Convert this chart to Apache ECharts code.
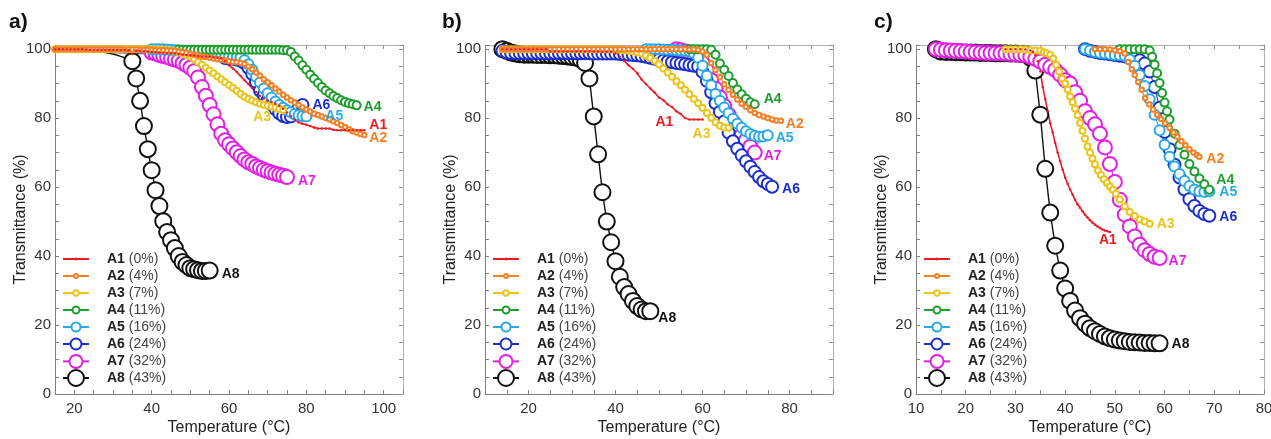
<!DOCTYPE html>
<html><head><meta charset="utf-8">
<script src="https://cdn.jsdelivr.net/npm/echarts@6/dist/echarts.min.js"></script>
<style>html,body{margin:0;padding:0;background:#fff}#c{width:1271px;height:439px}</style>
</head><body><div id="c"></div>
<script>
// ---------------- DATA ----------------
const names = ['A1','A2','A3','A4','A5','A6','A7','A8'];
const pcts = ['0%','4%','7%','11%','16%','24%','32%','43%'];
const panelLetters = ['a)','b)','c)'];
const xMin = [15,10,10];
const xMax = [105,90,80];
const xLabelStep = [20,20,10];
const yLabelStep = 20;

// panel a
const aA1 = [[15,100],[16,100],[17,100],[18,100],[19,100],[20,100],[21,100],[22,100],[23,99.9],[24,99.8],[25,99.8],[26,99.8],[27,99.8],[28,99.8],[29,99.8],[30,99.8],[31,99.8],[32,99.8],[33,99.8],[34,99.7],[35,98.6],[36,99.6],[37,99.5],[38,99.4],[39,99.3],[40,99.2],[41,99.1],[42,99.0],[43,98.9],[44,98.8],[45,98.8],[46,98.7],[47,98.5],[48,98.4],[49,98.3],[50,98.3],[51,98.2],[52,98.0],[53,97.9],[54,97.8],[55,97.8],[56,97.6],[57,97.5],[58,97.3],[59,96.6],[60,95.3],[61,94.4],[62,93.4],[63,92.2],[64,91.0],[65,89.9],[66,88.7],[67,87.6],[68,86.5],[69,85.7],[70,85.2],[71,84.7],[72,84.2],[73,83.6],[74,82.7],[75,81.6],[76,80.6],[77,79.6],[78,78.8],[79,78.4],[80,78.1],[81,77.7],[82,77.3],[83,77.0],[84,77.0],[85,77.0],[86,77.0],[87,76.6],[88,76.5],[89,76.5],[90,76.5],[91,76.5],[92,76.5],[93,76.5],[94,76.5],[95,76.5]];
const aA2 = [[15,100],[16,100],[17,100],[18,100],[19,100],[20,100],[21,100],[22,100],[23,100],[24,100],[25,100],[26,100],[27,100],[28,100],[29,100],[30,100],[31,100],[32,100],[33,99.9],[34,99.9],[35,99.9],[36,99.9],[37,99.8],[38,99.8],[39,99.8],[40,99.8],[41,99.7],[42,99.7],[43,99.7],[44,99.6],[45,99.6],[46,99.5],[47,99.3],[48,99.1],[49,98.9],[50,98.6],[51,98.4],[52,98.1],[53,97.9],[54,97.7],[55,97.5],[56,97.3],[57,97.1],[58,96.9],[59,96.7],[60,96.5],[61,96.3],[62,96.2],[63,96.0],[64,95.7],[65,95.0],[66,94.2],[67,93.2],[68,92.3],[69,91.3],[70,90.4],[71,89.5],[72,88.6],[73,87.7],[74,86.8],[75,86.0],[76,85.2],[77,84.5],[78,83.8],[79,83.1],[80,82.5],[81,81.9],[82,81.3],[83,80.9],[84,80.5],[85,80.0],[86,79.6],[87,79.1],[88,78.6],[89,78.0],[90,77.4],[91,76.8],[92,76.2],[93,75.8],[94,75.4],[95,75.1]];
const aA3 = [[15,100],[16,100],[17,100],[18,100],[19,100],[20,100],[21,100],[22,100],[23,100],[24,100],[25,100],[26,100],[27,100],[28,100],[29,100],[30,100],[31,100],[32,100],[33,100],[34,100],[35,100],[36,100],[37,100],[38,100],[39,100],[40,100],[41,99.9],[42,99.9],[43,99.8],[44,99.7],[45,99.6],[46,99.4],[47,99.1],[48,98.7],[49,98.3],[50,97.9],[51,97.1],[52,96.3],[53,95.5],[54,94.6],[55,93.8],[56,93.0],[57,92.1],[58,91.3],[59,90.4],[60,89.6],[61,88.8],[62,87.9],[63,87.0],[64,86.2],[65,85.6],[66,85.1],[67,84.6],[68,84.2],[69,83.9],[70,83.6],[71,83.3],[72,83.0],[73,82.6],[74,82.3]];
const aA4 = [[47,99.9],[48,99.8],[49,99.8],[50,99.8],[51,99.8],[52,99.8],[53,99.8],[54,99.8],[55,99.8],[56,99.8],[57,99.8],[58,99.8],[59,99.8],[60,99.8],[61,99.8],[62,99.8],[63,99.8],[64,99.8],[65,99.8],[66,99.8],[67,99.8],[68,99.8],[69,99.8],[70,99.8],[71,99.8],[72,99.8],[73,99.8],[74,99.7],[75,99.7],[76,99.2],[77,97.9],[78,96.7],[79,95.3],[80,94.0],[81,92.6],[82,91.4],[83,90.2],[84,89.0],[85,88.0],[86,87.2],[87,86.4],[88,85.8],[89,85.2],[90,84.7],[91,84.3],[92,84.0],[93,83.7]];
const aA5 = [[40,100],[41,100],[42,100],[43,100],[44,99.9],[45,99.8],[46,99.7],[47,99.6],[48,99.5],[49,99.4],[50,99.2],[51,99.0],[52,98.8],[53,98.7],[54,98.6],[55,98.5],[56,98.4],[57,98.3],[58,98.2],[59,98.1],[60,97.9],[61,97.8],[62,97.7],[63,97.6],[64,96.8],[65,95.6],[66,94.0],[67,92.0],[68,90.3],[69,88.6],[70,87.2],[71,86.0],[72,84.8],[73,83.8],[74,83.0],[75,82.3],[76,81.7],[77,81.2],[78,80.8],[79,80.6],[80,80.5]];
const aA6lead = [[15,99.6],[20,99.4],[25,99.2],[30,99.0],[35,98.8],[40,98.5],[45,98.0],[50,97.7],[55,97.5],[59,97.4]];
const aA6 = [[59,97.4],[60,97.3],[61,97.2],[62,97.0],[63,96.6],[64,96.0],[65,94.6],[66,92.8],[67,90.4],[68,88.0],[69,86.6],[70,85.2],[71,84.0],[72,82.6],[73,81.4],[74,80.6],[75,80.3],[76,80.5],[77,81.5],[78,83.0],[79,83.8]];
const aA7 = [[40,99.0],[41,98.7],[42,98.3],[43,98.0],[44,97.7],[45,97.3],[46,97.0],[47,96.6],[48,96.0],[49,95.4],[50,94.6],[51,93.6],[52,91.8],[53,89.0],[54,86.5],[55,83.8],[56,81.1],[57,78.2],[58,75.5],[59,73.6],[60,72.4],[61,71.2],[62,70.1],[63,69.0],[64,68.0],[65,67.2],[66,66.7],[67,66.0],[68,65.5],[69,65.0],[70,64.6],[71,64.2],[72,63.9],[73,63.6],[74,63.3],[75,62.9]];
const aA8lead = [[15,99.6],[20,99.5],[25,99.3],[28,99.0],[30,98.6],[32,97.9],[34,97.2],[35,96.5]];
const aA8 = [[35,96.5],[36,91.5],[37,85.0],[38,77.7],[39,71.0],[40,64.9],[41,59.1],[42,54.5],[43,50.1],[44,47.0],[45,44.6],[46,42.3],[47,40.0],[48,38.3],[49,37.4],[50,36.5],[51,36.2],[52,35.9],[53,35.7],[54,35.7],[55,35.8]];

// panel b
const bA1 = [[14,100],[15,100],[16,100],[17,100],[18,100],[19,100],[20,100],[21,100],[22,100],[23,100],[24,100],[25,99.3],[26,99.3],[27,99.3],[28,99.3],[29,99.3],[30,99.3],[31,99.3],[32,99.3],[33,99.3],[34,99.3],[35,99.3],[36,99.3],[37,99.2],[38,99.2],[39,99.2],[40,98.7],[41,97.8],[42,96.6],[43,95.3],[44,94.3],[45,93.0],[46,91.2],[47,89.9],[48,88.6],[49,87.4],[50,86.0],[51,85.2],[52,84.0],[53,83.2],[54,82.0],[55,81.2],[56,80.0],[57,79.6],[58,79.6],[59,79.6],[60,79.6]];
const bA2 = [[14,100],[15,100],[16,100],[17,100],[18,100],[19,100],[20,100],[21,100],[22,100],[23,100],[24,100],[25,100],[26,100],[27,100],[28,100],[29,100],[30,100],[31,100],[32,100],[33,100],[34,100],[35,100],[36,100],[37,100],[38,100],[39,100],[40,100],[41,100],[42,100],[43,100],[44,100],[45,100],[46,100],[47,100],[48,100],[49,100],[50,100],[51,100],[52,100],[53,100],[54,100],[55,100],[56,100],[57,99.9],[58,99.9],[59,99.8],[60,99.3],[61,98.3],[62,96.0],[63,94.0],[64,91.9],[65,89.8],[66,88.2],[67,86.8],[68,85.4],[69,84.2],[70,83.3],[71,82.3],[72,81.5],[73,80.9],[74,80.5],[75,80.0],[76,79.6],[77,79.3],[78,79.2]];
const bA3 = [[14,100],[15,100],[16,100],[17,100],[18,100],[19,100],[20,100],[21,100],[22,100],[23,100],[24,100],[25,100],[26,100],[27,100],[28,100],[29,100],[30,100],[31,100],[32,100],[33,100],[34,100],[35,100],[36,100],[37,100],[38,100],[39,100],[40,99.9],[41,99.8],[42,99.7],[43,99.5],[44,99.4],[45,99.1],[46,98.7],[47,98.1],[48,97.4],[49,96.6],[50,95.6],[51,94.4],[52,93.2],[53,92.0],[54,90.7],[55,89.5],[56,88.2],[57,86.9],[58,85.6],[59,84.3],[60,83.0],[61,81.5],[62,80.1],[63,78.8],[64,77.8],[65,77.3],[66,77.2]];
const bA4 = [[57,100],[58,100],[59,100],[60,100],[61,100],[62,99.8],[63,98.4],[64,95.8],[65,94.0],[66,92.2],[67,90.2],[68,88.3],[69,86.9],[70,85.6],[71,84.6],[72,84.0]];
const bA5 = [[47,100],[48,100],[49,100],[50,100],[51,99.9],[52,99.8],[53,99.8],[54,99.7],[55,99.6],[56,99.5],[57,99.3],[58,98.8],[59,97.5],[60,95.2],[61,92.3],[62,89.5],[63,87.0],[64,85.0],[65,83.1],[66,81.4],[67,79.8],[68,78.4],[69,77.2],[70,76.2],[71,75.4],[72,74.9],[73,74.6],[74,74.7],[75,75.0]];
const bA6 = [[14,99.5],[15,99.0],[16,98.8],[17,98.8],[18,98.8],[19,98.8],[20,98.8],[21,98.8],[22,98.8],[23,98.8],[24,98.8],[25,98.8],[26,98.8],[27,98.8],[28,98.8],[29,98.8],[30,98.8],[31,98.8],[32,98.8],[33,98.8],[34,98.8],[35,98.7],[36,98.7],[37,98.7],[38,98.7],[39,98.7],[40,98.7],[41,98.6],[42,98.5],[43,98.4],[44,98.3],[45,98.2],[46,98.0],[47,97.8],[48,97.5],[49,97.2],[50,96.9],[51,96.6],[52,96.4],[53,96.2],[54,96.0],[55,95.8],[56,95.6],[57,95.4],[58,95.2],[59,95.0],[60,93.4],[61,90.8],[62,87.5],[63,84.3],[64,81.8],[65,79.0],[66,75.8],[67,73.3],[68,71.1],[69,69.2],[70,67.5],[71,65.9],[72,64.4],[73,62.9],[74,61.7],[75,60.9],[76,60.1]];
const bA7 = [[54,100],[55,99.7],[56,99.3],[57,99.0],[58,98.5],[59,97.5],[60,96.0],[61,93.8],[62,91.0],[63,88.5],[64,86.0],[65,83.5],[66,81.0],[67,79.0],[68,77.0],[69,75.0],[70,73.5],[71,71.7],[72,70.0]];
const bA8 = [[14,100],[15,99.5],[16,99.0],[17,98.7],[18,98.5],[19,98.4],[20,98.4],[21,98.4],[22,98.3],[23,98.3],[24,98.3],[25,98.2],[26,98.2],[27,98.1],[28,98.0],[29,97.9],[30,97.7],[31,97.5],[32,97.0],[33,96.0],[34,91.5],[35,80.5],[36,69.5],[37,58.5],[38,50.0],[39,44.0],[40,38.5],[41,34.0],[42,31.0],[43,29.0],[44,27.0],[45,25.5],[46,24.5],[47,24.0],[48,24.0]];

// panel c
const cA1 = [[28,100],[29,100],[30,100],[31,100],[32,99.9],[33,99.6],[33.5,99.2],[34,98.3],[34.5,96.5],[35,93.5],[35.5,89.0],[36,85.5],[36.5,82.0],[37,78.5],[37.5,75.8],[38,72.8],[38.5,70.0],[39,67.5],[39.5,65.0],[40,62.8],[40.5,61.0],[41,59.3],[41.5,57.8],[42,56.3],[42.5,55.0],[43,54.0],[43.5,53.0],[44,52.0],[44.5,51.2],[45,50.4],[45.5,49.7],[46,49.1],[46.5,48.6],[47,48.1],[47.5,47.7],[48,47.4],[48.5,47.2],[49,47.0]];
const cA2 = [[46,100],[47,100],[48,100],[49,99.9],[50,99.7],[51,99.4],[52,98.7],[52.7,96.3],[53.4,94.2],[54,92.5],[54.7,90.5],[55.4,88.2],[56.1,85.8],[56.9,84.0],[57.7,82.5],[58.5,81.0],[59.3,79.8],[60.1,78.5],[61,77.2],[61.8,75.8],[62.6,74.6],[63.4,73.3],[64.2,72.1],[65,71.0],[65.8,70.0],[66.5,69.3],[67,68.8]];
const cA3 = [[28,100],[29,100],[30,100],[31,100],[32,99.9],[33,99.7],[34,99.6],[35,99.5],[35.7,99.1],[36.3,98.8],[37,98.3],[37.6,97.3],[38.2,95.5],[38.8,93.5],[39.4,91.5],[40,90.0],[40.5,88.3],[41,86.3],[41.5,84.6],[42,82.8],[42.5,80.8],[43,78.6],[43.5,76.3],[44,74.0],[44.5,71.8],[45,70.0],[45.5,68.3],[46,66.6],[46.6,64.8],[47.2,63.5],[47.8,62.3],[48.4,61.2],[49,60.2],[49.6,59.2],[50.2,58.1],[51,56.4],[52,54.4],[53,52.8],[54,51.6],[55,50.6],[56,50.0],[57,49.4]];
const cA4 = [[51,100],[52,100],[53,100],[54,100],[55,100],[56,100],[57,99.6],[57.5,97.8],[58,95.5],[58.5,93.0],[59,90.2],[59.5,87.3],[60,84.5],[60.5,82.0],[61,79.6],[62,75.5],[63,72.2],[64,69.4],[65,66.7],[66,64.5],[67,62.5],[68,60.8],[69,59.2]];
const cA5 = [[44,100],[45,99.6],[46,99.2],[47,98.9],[48,98.7],[49,98.5],[50,98.3],[51,98.2],[52,98.0],[53,97.0],[54,95.2],[55,92.5],[56,89.3],[57,85.5],[58,81.0],[59,76.5],[60,72.3],[61,68.8],[62,66.0],[63,63.8],[64,61.8],[65,60.3],[66,59.3],[67,58.8],[68,58.6],[69,58.8]];
const cA6 = [[44,100],[45,99.5],[46,99.2],[47,98.9],[48,98.7],[49,98.5],[50,98.3],[51,98.1],[52,97.9],[53,97.6],[54,97.3],[55,96.8],[56,95.8],[57,93.5],[58,89.0],[59,83.0],[60,76.0],[61,71.0],[62,66.5],[63,62.8],[64,59.3],[65,56.5],[66,54.5],[67,53.1],[68,52.2],[69,51.7]];
const cA7 = [[14,100],[15,99.8],[16,99.7],[17,99.6],[18,99.5],[19,99.4],[20,99.3],[21,99.2],[22,99.1],[23,99.0],[24,98.9],[25,98.9],[26,98.8],[27,98.8],[28,98.7],[29,98.6],[30,98.5],[31,98.4],[32,98.2],[33,97.8],[34,97.2],[35,96.4],[36,95.5],[37,94.8],[38,94.0],[39,92.6],[40,91.0],[41,90.0],[42,87.5],[43,85.0],[44,82.0],[45,80.0],[46,78.2],[47,75.5],[48,71.5],[49,66.7],[50,61.5],[51,56.3],[52,52.0],[53,48.6],[54,45.7],[55,43.3],[56,41.7],[57,40.6],[58,39.8],[59,39.4]];
const cA8 = [[14,100],[15,99.3],[16,99.2],[17,99.2],[18,99.1],[19,99.1],[20,99.0],[21,99.0],[22,99.0],[23,98.9],[24,98.9],[25,98.9],[26,98.8],[27,98.8],[28,98.8],[29,98.7],[30,98.7],[31,98.6],[32,98.5],[33,97.5],[34,93.8],[35,81.0],[36,65.3],[37,52.6],[38,43.0],[39,35.8],[40,30.6],[41,27.0],[42,24.2],[43,22.0],[44,20.4],[45,19.1],[46,18.2],[47,17.4],[48,16.7],[49,16.2],[50,15.8],[51,15.5],[52,15.3],[53,15.1],[54,15.0],[55,14.9],[56,14.8],[57,14.8],[58,14.7],[59,14.7]];

const panelData = [
  [aA1,aA2,aA3,aA4,aA5,aA6,aA7,aA8],
  [bA1,bA2,bA3,bA4,bA5,bA6,bA7,bA8],
  [cA1,cA2,cA3,cA4,cA5,cA6,cA7,cA8]
];
const leadData = [{5:aA6lead, 7:aA8lead},{},{}];

// ---------------- STYLE / LAYOUT ----------------
const FONT = '"Liberation Sans", Arial, sans-serif';
const colors = ['#ec1c24','#f58025','#ebc51c','#1f9e2e','#27a9e8','#1c2fcc','#e41fe4','#111111'];
const symbols = ['circle','emptyCircle','emptyCircle','emptyCircle','emptyCircle','emptyCircle','emptyCircle','emptyCircle'];
const symbolSizes = [2.5,4.5,6,8,10,12,14,16];
const lineWidths = [1.6,1.1,1.1,1.1,1.1,1.1,1.1,1.4];
const legendSym = [3,4,5.5,7,9,11,13,16];
const gridLeft = [55,485,916];
const gridRight = [868,438,7];
const labelShift = [
  [[5,-5],[5,3],[-30,7],[7,2],[19,0],[10,0],[11,4],[12,4]],
  [[-47,3],[5,3],[-36,6],[9,-5],[8,3],[10,2],[9,4],[8,7]],
  [[-11,8],[7,2],[7,1],[7,-10],[10,1],[10,1],[9,3],[12,1]]
];

const grids = [], xAxes = [], yAxes = [], series = [], legends = [], titles = [];
for (let p = 0; p < 3; p++) {
  grids.push({left: gridLeft[p], right: gridRight[p], top: 45, bottom: 45, containLabel: false, outerBoundsMode: 'none'});
  const lab = xLabelStep[p];
  xAxes.push({
    gridIndex: p, type: 'value', min: xMin[p], max: xMax[p], interval: 5, position: 'bottom',
    axisLine: {onZero: false, lineStyle: {color: '#808080', width: 1}},
    axisTick: {inside: true, length: 4, lineStyle: {color: '#808080'}},
    axisLabel: {formatter: v => (v % lab === 0 ? String(v) : ''), color: '#333', fontSize: 15, margin: 7, fontFamily: FONT},
    splitLine: {show: false},
    name: 'Temperature (°C)', nameLocation: 'middle', nameGap: 26, nameMoveOverlap: false,
    nameTextStyle: {fontSize: 16, color: '#222', fontFamily: FONT}
  });
  xAxes.push({
    gridIndex: p, type: 'value', min: xMin[p], max: xMax[p], interval: 5, position: 'top',
    axisLine: {onZero: false, lineStyle: {color: '#b0b0b0', width: 1}},
    axisTick: {inside: true, length: 4, lineStyle: {color: '#909090'}},
    axisLabel: {show: false}, splitLine: {show: false}
  });
  yAxes.push({
    gridIndex: p, type: 'value', min: 0, max: 101.2, interval: 5, position: 'left',
    axisLine: {show: true, onZero: false, lineStyle: {color: '#808080', width: 1}},
    axisTick: {show: true, inside: true, length: 4, lineStyle: {color: '#808080'}},
    axisLabel: {formatter: v => (v % yLabelStep === 0 ? String(v) : ''), color: '#333', fontSize: 15, margin: 4, fontFamily: FONT},
    splitLine: {show: false},
    name: 'Transmittance (%)', nameLocation: 'middle', nameGap: 26, nameRotate: 90, nameMoveOverlap: false,
    nameTextStyle: {fontSize: 16, color: '#222', fontFamily: FONT}
  });
  yAxes.push({
    gridIndex: p, type: 'value', min: 0, max: 101.2, interval: 5, position: 'right',
    axisLine: {show: true, onZero: false, lineStyle: {color: '#b0b0b0', width: 1}},
    axisTick: {show: true, inside: true, length: 4, lineStyle: {color: '#909090'}},
    axisLabel: {show: false}, splitLine: {show: false}
  });
  titles.push({text: panelLetters[p], left: [9, 442, 874][p], top: 12, padding: 0,
    textStyle: {fontSize: 21, fontWeight: 'bold', color: '#111', fontFamily: FONT}});

  for (let i = 7; i >= 0; i--) {
    const data = panelData[p][i];
    const last = data.length - 1;
    const nm = names[i];
    series.push({
      type: 'line', name: nm, xAxisIndex: 2 * p, yAxisIndex: 2 * p, data: data,
      symbol: symbols[i], symbolSize: symbolSizes[i], showSymbol: true, showAllSymbol: true,
      lineStyle: {color: colors[i], width: lineWidths[i]},
      itemStyle: {color: colors[i], borderWidth: 1.2},
      label: {show: true, position: 'inside', align: 'left', verticalAlign: 'middle',
        formatter: (pp) => (pp.dataIndex === last ? nm : ''),
        color: colors[i], fontWeight: 'bold', fontSize: 14, fontFamily: FONT, textBorderWidth: 0},
      labelLayout: {dx: labelShift[p][i][0], dy: labelShift[p][i][1]},
      emphasis: {disabled: true}, silent: true, animation: false
    });
    if (leadData[p][i]) {
      series.push({
        type: 'line', name: nm + ' lead', xAxisIndex: 2 * p, yAxisIndex: 2 * p, data: leadData[p][i],
        symbol: 'none', lineStyle: {color: colors[i], width: lineWidths[i]},
        emphasis: {disabled: true}, silent: true, animation: false
      });
    }
  }
  for (let i = 0; i < 8; i++) {
    const ih = legendSym[i] / 0.8;
    const center = 260 + 17 * i;
    const nm = names[i], pc = pcts[i];
    legends.push({
      data: [nm], left: gridLeft[p] + 7, top: center - Math.max(ih, 16) / 2,
      itemWidth: 26, itemHeight: ih, padding: 0, selectedMode: false,
      lineStyle: {width: 2},
      formatter: () => '{sp|}{b|' + nm + '} {n|(' + pc + ')}',
      textStyle: {fontSize: 14, fontFamily: FONT, color: '#333',
        rich: {sp: {width: 13, height: 16},
               b: {fontWeight: 'bold', fontSize: 14, color: '#222', fontFamily: FONT, lineHeight: 16},
               n: {fontSize: 14, color: '#444', fontFamily: FONT, lineHeight: 16}}}
    });
  }
}

const chart = echarts.init(document.getElementById('c'), null, {renderer: 'canvas'});
chart.setOption({
  animation: false,
  backgroundColor: '#ffffff',
  title: titles, grid: grids, xAxis: xAxes, yAxis: yAxes, legend: legends, series: series
});
</script></body></html>
